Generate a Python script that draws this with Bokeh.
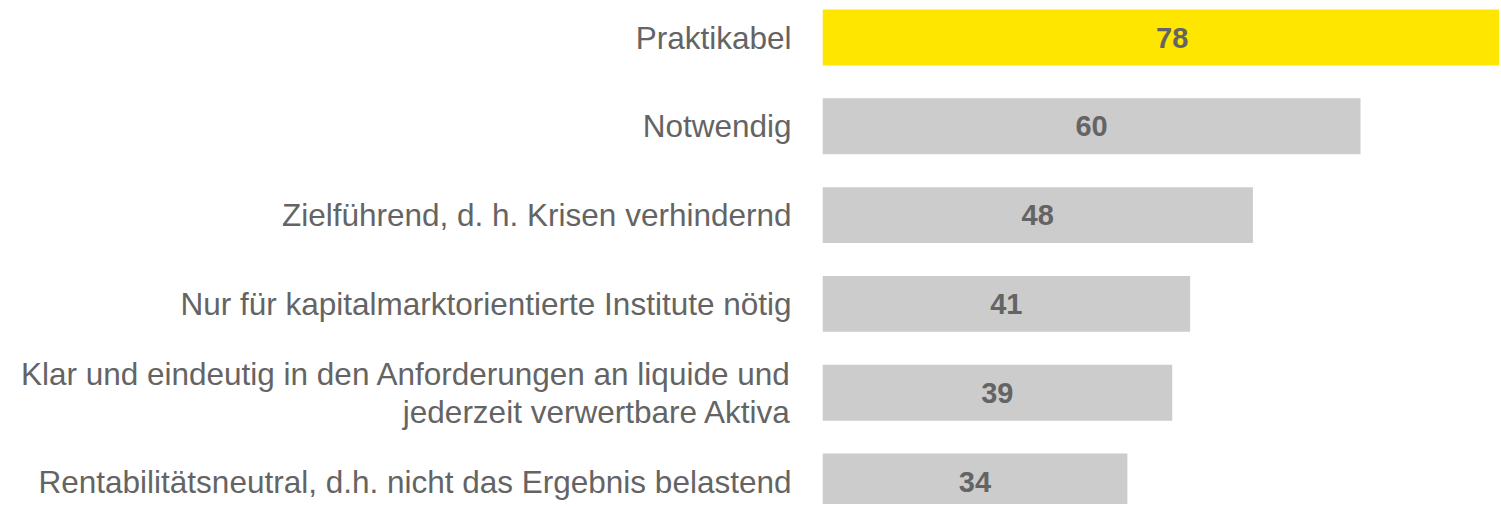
from bokeh.plotting import figure
from bokeh.models import Range1d, FixedTicker, ColumnDataSource
from bokeh.core.properties import value
from bokeh.embed import file_html
from bokeh.resources import INLINE

categories = [
    "Praktikabel",
    "Notwendig",
    "Zielführend, d. h. Krisen verhindernd",
    "Nur für kapitalmarktorientierte Institute nötig",
    "Klar und eindeutig in den Anforderungen an liquide und\njederzeit verwertbare Aktiva",
    "Rentabilitätsneutral, d.h. nicht das Ergebnis belastend",
]
values = [78, 60, 48, 41, 39, 34]
colors = ["#FFE600", "#CCCCCC", "#CCCCCC", "#CCCCCC", "#CCCCCC", "#CCCCCC"]

pos = list(range(len(categories)))
src = ColumnDataSource(dict(y=pos, v=values, mid=[v / 2 for v in values],
                            lab=[str(v) for v in values], c=colors))

FONT = "Liberation Sans, Arial, sans-serif"
TXT = "#646464"

p = figure(width=1499, height=504, output_backend="svg", toolbar_location=None,
           x_range=Range1d(0, 75.5), y_range=Range1d(5.259, -0.4167),
           min_border_left=822, min_border_right=0, min_border_top=0, min_border_bottom=0)
p.outline_line_color = None
p.grid.grid_line_color = None
p.xaxis.visible = False

p.hbar(y="y", right="v", left=0, height=0.63, color="c", line_color=None, source=src)
p.text(x="mid", y="y", text="lab", source=src, text_align="center", text_baseline="middle",
       text_font=value(FONT), text_font_style="bold", text_font_size="29px", text_color=TXT)

ya = p.yaxis[0]
ya.ticker = FixedTicker(ticks=pos)
ya.major_label_overrides = {i: c for i, c in enumerate(categories)}
ya.axis_line_color = None
ya.major_tick_line_color = None
ya.minor_tick_line_color = None
ya.major_label_text_font = FONT
ya.major_label_text_font_size = "31.5px"
ya.major_label_text_color = TXT
ya.major_label_text_line_height = 1.05
ya.major_label_standoff = 25

open("out.html", "w").write(file_html(p, INLINE))
